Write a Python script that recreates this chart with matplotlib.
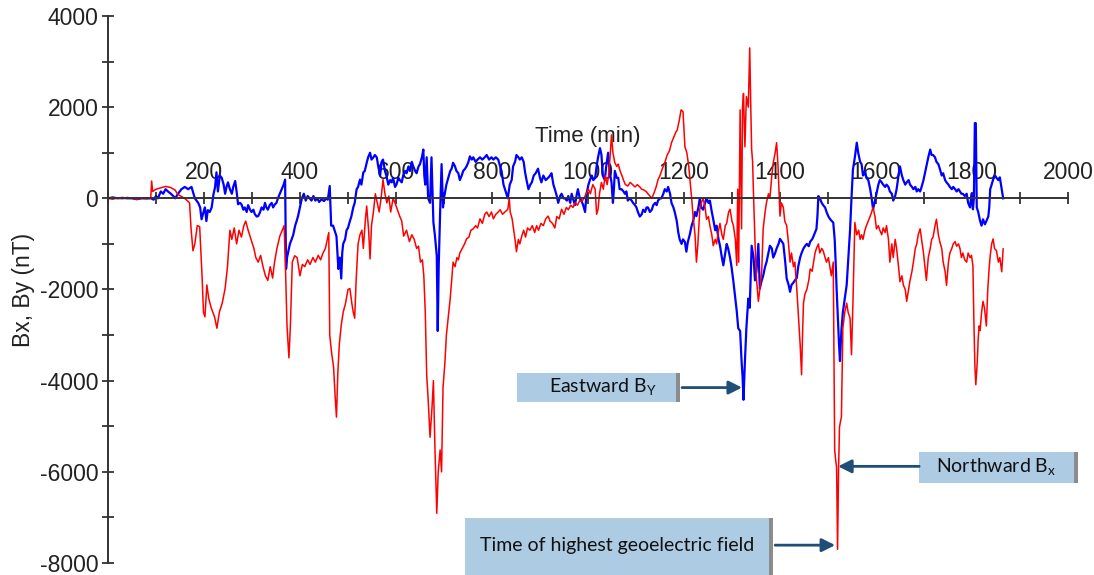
import numpy as np
import matplotlib.pyplot as plt
from matplotlib.patches import Rectangle
from matplotlib.ticker import MultipleLocator

plt.rcParams['font.family'] = ['Liberation Sans', 'DejaVu Sans']
plt.rcParams['axes.unicode_minus'] = False
plt.rcParams['mathtext.fontset'] = 'custom'
plt.rcParams['mathtext.rm'] = 'Lato'

#%% data: (time in min, field in nT)

# northward Bx (red)
bx = [
    (0, 0), (10, -20), (20, 10), (30, -10), (40, 20), (50, 0), (60, -20), (70, 0), (80, -10), (89, 0),
    (91, 380), (93, 150), (100, 200), (110, 230), (120, 260), (130, 240), (140, 180), (145, 90), (155, 30), (162, -20),
    (170, -100), (173, -650), (177, -1150), (181, -1000), (186, -600), (191, -620), (196, -1700), (199, -2500), (202, -2600), (206, -1900),
    (210, -2200), (215, -2400), (222, -2600), (227, -2850), (232, -2500), (238, -2300), (244, -1980), (249, -1500), (254, -700), (258, -900),
    (263, -650), (268, -1000), (273, -700), (278, -850), (283, -600), (287, -500), (292, -700), (298, -900), (304, -1100), (308, -1300),
    (313, -1400), (318, -1250), (323, -1500), (328, -1700), (333, -1800), (338, -1500), (343, -1750), (347, -1400), (352, -1100), (358, -830),
    (363, -700), (367, -600), (370, -1600), (373, -2800), (377, -3500), (380, -2800), (384, -1400), (389, -1260), (394, -1300), (400, -1700),
    (405, -1450), (410, -1500), (416, -1350), (421, -1450), (427, -1300), (432, -1400), (438, -1250), (443, -1350), (448, -1200), (453, -1100),
    (457, -900), (460, -750), (462, -3000), (466, -3400), (470, -3700), (473, -4300), (476, -4800), (479, -3800), (482, -3200), (486, -2780),
    (490, -2500), (495, -2300), (500, -2000), (504, -1980), (508, -2300), (511, -2500), (514, -2630), (517, -1800), (521, -1000), (525, -800),
    (529, -700), (532, -1100), (536, -500), (539, -170), (543, -700), (546, -1330), (549, -600), (553, -300), (557, 100), (561, -100),
    (565, -300), (569, 0), (573, 410), (577, 100), (581, -100), (585, 50), (589, -300), (594, 0), (598, -100), (603, -250),
    (608, -400), (612, -500), (616, -830), (622, -700), (628, -950), (633, -800), (638, -900), (643, -1100), (647, -1050), (651, -1400),
    (655, -1350), (658, -1700), (661, -2480), (664, -3870), (667, -4400), (671, -5240), (675, -4600), (678, -4000), (681, -5400), (683, -6200),
    (685, -6910), (688, -6000), (692, -5520), (695, -6000), (698, -4150), (702, -3600), (705, -3000), (709, -2600), (713, -2200), (716, -1800),
    (719, -1400), (723, -1500), (727, -1300), (730, -1350), (733, -1200), (738, -1100), (743, -1000), (747, -890), (752, -850), (756, -700),
    (761, -670), (766, -600), (770, -650), (775, -450), (780, -550), (785, -350), (789, -300), (794, -400), (799, -300), (803, -450),
    (808, -350), (813, -300), (817, -250), (822, -350), (827, -300), (833, -240), (836, 0), (838, -300), (842, -450), (844, -600),
    (848, -900), (851, -1170), (855, -900), (858, -1000), (862, -830), (866, -700), (870, -850), (874, -650), (879, -700), (884, -600),
    (889, -750), (893, -600), (897, -700), (902, -550), (907, -600), (912, -450), (917, -390), (921, -500), (926, -550), (931, -650),
    (935, -400), (940, -450), (945, -240), (950, -350), (955, -200), (959, -250), (964, -150), (969, -200), (973, -100), (978, -150),
    (983, -50), (987, -70), (992, 0), (996, 100), (1001, 200), (1005, 100), (1010, 300), (1015, 200), (1018, -350), (1021, -240),
    (1024, 100), (1028, 350), (1032, 200), (1036, 500), (1040, 300), (1043, 500), (1046, 900), (1049, 1390), (1052, 1000), (1056, 780),
    (1060, 700), (1063, 750), (1067, 600), (1070, 520), (1074, 400), (1078, 300), (1083, 270), (1088, 350), (1093, 300), (1098, 250),
    (1103, 300), (1108, 250), (1112, 200), (1117, 180), (1121, 150), (1125, 100), (1129, 50), (1133, 0), (1137, 100), (1142, 250),
    (1146, 410), (1150, 500), (1155, 650), (1160, 780), (1165, 950), (1170, 1050), (1174, 1220), (1179, 1350), (1183, 1450), (1186, 1500),
    (1190, 1700), (1194, 1940), (1198, 1900), (1202, 1130), (1206, 1000), (1210, 700), (1213, 350), (1216, 0), (1219, -390), (1223, -800),
    (1226, -1400), (1229, -1000), (1233, -240), (1236, -100), (1240, 0), (1244, -200), (1247, -460), (1251, -400), (1254, -600), (1258, -800),
    (1261, -1040), (1265, -900), (1268, -1000), (1272, -700), (1275, -550), (1279, -800), (1282, -900), (1286, -600), (1289, -550), (1293, -300),
    (1296, -240), (1300, -500), (1303, -600), (1307, -900), (1310, -1470), (1312, 200), (1314, -1400), (1317, 1940), (1320, -670), (1322, 2000),
    (1324, 2300), (1327, 1130), (1330, 2230), (1334, 2000), (1337, 3300), (1339, 2100), (1341, 1070), (1343, 800), (1345, 50), (1348, -960),
    (1351, -1760), (1355, -2260), (1358, -2000), (1362, -1600), (1365, -670), (1369, -300), (1372, -90), (1376, 100), (1379, 0), (1383, 500),
    (1386, 780), (1390, 1000), (1393, 1220), (1396, 700), (1400, -390), (1403, -100), (1407, -200), (1410, -500), (1414, -600), (1417, -900),
    (1421, -1400), (1424, -1200), (1428, -1500), (1431, -1400), (1435, -1980), (1438, -2500), (1442, -3200), (1445, -3870), (1447, -3000), (1449, -2300),
    (1452, -2100), (1456, -2000), (1460, -1800), (1463, -1550), (1467, -1600), (1470, -1400), (1473, -1200), (1476, -1100), (1480, -1000), (1483, -1200),
    (1487, -1100), (1490, -1150), (1494, -1300), (1497, -1400), (1501, -1300), (1504, -1500), (1507, -1700), (1511, -1400), (1514, -5520), (1516, -5740),
    (1518, -5900), (1520, -7700), (1522, -6000), (1524, -5020), (1526, -4900), (1528, -4800), (1531, -2850), (1535, -2500), (1539, -2300), (1542, -2500),
    (1546, -2630), (1549, -3430), (1552, -2300), (1556, -530), (1560, -800), (1564, -700), (1567, -900), (1570, -800), (1573, -900), (1577, -700),
    (1580, -600), (1584, -500), (1588, -390), (1591, -300), (1594, -200), (1598, -400), (1601, -670), (1605, -600), (1608, -700), (1612, -800),
    (1615, -650), (1619, -750), (1622, -600), (1626, -900), (1629, -1400), (1633, -1000), (1636, -1300), (1640, -900), (1643, -1100), (1647, -1500),
    (1650, -1830), (1654, -1700), (1657, -1900), (1661, -2000), (1664, -2260), (1668, -2000), (1671, -1800), (1675, -1600), (1678, -1400), (1682, -1100),
    (1685, -1000), (1688, -800), (1692, -670), (1695, -900), (1699, -1200), (1702, -1500), (1705, -1800), (1709, -1300), (1713, -1100), (1716, -900),
    (1719, -850), (1723, -600), (1726, -460), (1730, -800), (1733, -950), (1737, -1100), (1740, -1400), (1744, -1600), (1747, -1910), (1751, -1400),
    (1754, -1200), (1758, -1100), (1761, -1000), (1765, -950), (1768, -1050), (1772, -1000), (1775, -1100), (1778, -1300), (1781, -1200), (1785, -1350),
    (1789, -1400), (1792, -1200), (1796, -1300), (1799, -1250), (1802, -1480), (1804, -2700), (1806, -3650), (1808, -4090), (1811, -3600), (1813, -3070),
    (1815, -2800), (1817, -2900), (1820, -2500), (1823, -2260), (1826, -2400), (1830, -2800), (1833, -1980), (1836, -1500), (1838, -1260), (1841, -1000),
    (1844, -890), (1847, -1100), (1851, -1150), (1855, -1400), (1858, -1300), (1862, -1610), (1865, -1110),
]

# eastward By (blue)
by = [
    (0, 0), (10, 20), (20, 0), (30, 10), (40, 0), (50, 0), (60, -20), (70, 0), (80, 0), (90, 0),
    (95, -30), (100, 50), (104, 0), (110, 150), (115, 100), (120, 200), (125, 150), (131, 100), (136, 50), (140, 0),
    (146, 100), (153, 200), (160, 250), (167, 200), (174, 250), (181, 0), (188, -100), (192, -200), (195, -460), (199, -300),
    (202, -200), (205, -500), (208, -260), (212, -300), (216, -200), (220, 100), (223, 240), (226, 570), (229, 150), (233, 500),
    (237, 450), (241, 300), (244, 100), (247, 250), (250, 350), (254, 200), (258, 100), (261, 250), (265, 380), (268, 150),
    (271, -130), (275, -100), (278, -130), (282, -250), (285, -200), (289, -300), (292, -150), (296, -250), (299, -300), (303, -250),
    (306, -350), (310, -400), (313, -390), (317, -300), (320, -200), (324, -250), (327, -100), (330, -200), (333, -250), (337, -150),
    (341, -100), (344, -200), (348, -130), (351, -100), (354, 0), (358, 100), (362, 200), (366, 300), (369, 410), (371, -1550),
    (373, -1300), (375, -1200), (379, -1000), (383, -890), (386, -800), (390, -600), (393, -500), (396, -390), (400, -200), (404, 0),
    (408, 100), (412, -50), (416, 50), (420, 0), (424, -50), (428, 50), (432, -50), (436, 0), (440, -80), (445, -20),
    (450, -60), (455, 0), (458, -30), (462, 270), (465, -600), (469, -600), (472, -700), (476, -830), (478, -1200), (480, -1550),
    (483, -1300), (486, -1760), (488, -1200), (490, -1000), (494, -900), (497, -700), (500, -650), (504, -500), (507, -400), (511, -200),
    (514, -100), (518, 200), (521, 250), (525, 410), (528, 300), (532, 570), (535, 600), (539, 780), (542, 900), (546, 1000),
    (549, 850), (553, 900), (556, 950), (560, 900), (563, 700), (567, 500), (570, 800), (573, 850), (577, 600), (580, 500),
    (584, 300), (588, 400), (591, 350), (594, 450), (598, 250), (601, 300), (605, 450), (608, 400), (612, 350), (615, 500),
    (619, 600), (622, 550), (626, 700), (629, 600), (633, 800), (636, 700), (640, 600), (643, 550), (647, 700), (650, 750),
    (654, 900), (657, 1070), (659, 500), (661, 300), (664, 900), (667, 0), (671, -100), (674, 900), (678, -530), (681, -800),
    (685, -1260), (687, -2910), (689, -1500), (692, -300), (695, 750), (698, -200), (700, 0), (705, 300), (709, 450), (713, 600),
    (716, 650), (719, 780), (723, 700), (726, 600), (730, 550), (733, 400), (737, 500), (740, 600), (744, 650), (747, 700),
    (751, 800), (754, 920), (758, 850), (761, 900), (766, 800), (770, 850), (775, 900), (780, 850), (785, 900), (789, 950),
    (794, 850), (799, 900), (803, 850), (808, 900), (813, 850), (817, 700), (820, 600), (824, 300), (827, 200), (830, 100),
    (833, 0), (837, 300), (841, 400), (844, 700), (848, 800), (851, 950), (855, 900), (858, 850), (862, 900), (866, 800),
    (869, 570), (872, 400), (876, 200), (880, 300), (883, 350), (887, 500), (891, 550), (896, 650), (900, 450), (903, 350),
    (907, 500), (912, 400), (917, 450), (921, 500), (924, 550), (928, 300), (931, 200), (935, 50), (938, -100), (942, 50),
    (945, 100), (949, 0), (952, 0), (956, -50), (959, 50), (963, -100), (966, 100), (970, -50), (973, -150), (976, 50),
    (979, 200), (983, 0), (987, -70), (990, -150), (994, -300), (997, 100), (1001, 300), (1004, 400), (1008, 500), (1011, 400),
    (1015, 450), (1018, 700), (1021, 900), (1025, 1100), (1028, 960), (1031, 500), (1035, 400), (1038, 700), (1042, 1000), (1045, 600),
    (1049, 350), (1052, -100), (1054, 200), (1056, 600), (1060, 450), (1063, 450), (1066, 200), (1070, 200), (1074, 150), (1077, 100),
    (1080, 150), (1083, -50), (1087, 0), (1091, -50), (1094, -100), (1098, -150), (1101, -200), (1104, -300), (1108, -400), (1112, -350),
    (1115, -250), (1119, -300), (1122, -200), (1125, -200), (1129, -300), (1133, -250), (1136, -150), (1140, -100), (1143, -150), (1146, -50),
    (1150, 0), (1153, 0), (1157, 100), (1160, 200), (1164, 150), (1167, 250), (1171, 100), (1174, -100), (1178, -200), (1181, -310),
    (1185, -500), (1188, -740), (1191, -900), (1195, -1000), (1198, -900), (1202, -960), (1205, -1170), (1208, -960), (1212, -800), (1216, -600),
    (1219, -500), (1223, -300), (1226, -390), (1230, -200), (1233, 0), (1236, -200), (1240, -250), (1244, -100), (1247, 0), (1251, -100),
    (1254, -50), (1258, -300), (1261, -460), (1265, -700), (1268, -600), (1272, -900), (1275, -1040), (1279, -1300), (1282, -1470), (1286, -1200),
    (1289, -1000), (1292, -1100), (1296, -1300), (1299, -1500), (1303, -1830), (1307, -2200), (1310, -2480), (1313, -2850), (1317, -2910), (1320, -3570),
    (1322, -3900), (1324, -4420), (1327, -3570), (1330, -2850), (1334, -2200), (1337, -2400), (1341, -1040), (1345, -1300), (1348, -1800), (1351, -1600),
    (1355, -1000), (1358, -1980), (1362, -1800), (1365, -1700), (1369, -1500), (1372, -1400), (1376, -1200), (1379, -1040), (1383, -1100), (1386, -1300),
    (1390, -1200), (1393, -1100), (1397, -1000), (1400, -890), (1404, -950), (1407, -1000), (1411, -1400), (1414, -1760), (1418, -1900), (1421, -2050),
    (1424, -1900), (1428, -1850), (1431, -1800), (1435, -1750), (1438, -1500), (1442, -1300), (1445, -1200), (1449, -1100), (1452, -1050), (1456, -1000),
    (1460, -1050), (1463, -950), (1467, -900), (1470, -830), (1473, -750), (1476, -670), (1478, -400), (1480, 50), (1483, 0), (1487, -100),
    (1490, -150), (1494, -200), (1497, -300), (1501, -400), (1504, -450), (1508, -500), (1511, -530), (1514, -900), (1516, -1400), (1518, -1980),
    (1521, -2700), (1523, -3200), (1525, -3570), (1528, -2900), (1531, -2500), (1535, -2200), (1539, -1900), (1542, -1400), (1546, -700), (1549, 0),
    (1552, 630), (1556, 900), (1560, 1220), (1563, 1000), (1567, 800), (1570, 750), (1573, 500), (1577, 600), (1580, 450), (1584, 400),
    (1588, 200), (1591, 0), (1594, -240), (1597, -100), (1601, 100), (1605, 300), (1608, 400), (1612, 350), (1615, 300), (1619, 250),
    (1622, 300), (1626, 250), (1629, 150), (1633, 100), (1636, -50), (1640, 50), (1643, 200), (1647, 500), (1650, 700), (1654, 500),
    (1657, 400), (1661, 300), (1664, 350), (1668, 400), (1671, 300), (1675, 250), (1678, 200), (1682, 250), (1685, 150), (1688, 200),
    (1692, 150), (1695, 250), (1699, 400), (1702, 550), (1705, 700), (1709, 900), (1713, 1070), (1716, 950), (1719, 950), (1723, 900),
    (1726, 800), (1730, 750), (1733, 650), (1737, 500), (1740, 550), (1744, 400), (1747, 350), (1751, 300), (1754, 250), (1758, 200),
    (1761, 250), (1765, 200), (1768, 150), (1772, 200), (1775, 150), (1778, 100), (1781, 100), (1785, 50), (1789, 100), (1792, -100),
    (1796, -200), (1799, 100), (1802, -240), (1804, 0), (1806, 1650), (1808, 1650), (1810, -200), (1813, -300), (1817, -500), (1820, -600),
    (1823, -460), (1827, -570), (1830, -500), (1834, -400), (1836, -200), (1838, 200), (1841, 300), (1844, 410), (1848, 500), (1851, 450),
    (1855, 400), (1858, 460), (1862, 200), (1865, 0),
]

bx_t, bx_v = np.array(bx).T
by_t, by_v = np.array(by).T

#%% plot

fig = plt.figure(figsize=(10.94, 5.75), dpi=100)
ax = fig.add_axes([0.0987, 0.0209, 0.8775, 0.9513])

ax.plot(by_t, by_v, color='#0000ff', lw=1.6)
ax.plot(bx_t, bx_v, color='#ff0000', lw=1.1)

ax.set_xlim(0, 2000)
ax.set_ylim(-8000, 4000)

# x axis drawn through zero, labels above it
ax.spines['right'].set_visible(False)
ax.spines['bottom'].set_visible(False)
ax.spines['top'].set_position(('data', 0))
for s in ['top', 'left']:
    ax.spines[s].set_color('#333333')
    ax.spines[s].set_linewidth(1.4)
ax.xaxis.tick_top()
ax.xaxis.set_label_position('top')

ax.set_xticks(range(200, 2001, 200))
ax.xaxis.set_minor_locator(MultipleLocator(100))
ax.set_yticks(range(-8000, 4001, 2000))
ax.yaxis.set_minor_locator(MultipleLocator(1000))

ax.tick_params(axis='both', which='both', direction='inout', length=8, width=1.3,
               color='#333333', labelsize=16.5, labelcolor='#222222')
ax.tick_params(axis='x', which='major', pad=6)
ax.tick_params(axis='y', which='major', pad=3)

ax.set_xlabel('Time (min)', fontsize=16, color='#222222', labelpad=14)
ax.set_ylabel('Bx, By (nT)', fontsize=16.5, color='#222222')
ax.yaxis.set_label_coords(-0.076, 0.5)

#%% callout boxes

box_c = '#adcbe3'
bar_c = '#8c8c8c'
arr_c = '#1f4e79'
tfont = dict(family='Lato', fontsize=14, color='#111111', ha='center', va='center')
arrp = dict(arrowstyle='-|>', color=arr_c, lw=2, mutation_scale=20, shrinkA=0, shrinkB=0)

def callout(x0, x1, y0, y1, text, tx, ty):
    ax.add_patch(Rectangle((x0, y0), x1 - x0, y1 - y0, facecolor=box_c, edgecolor='none', clip_on=False))
    ax.add_patch(Rectangle((x1 - 8, y0), 8, y1 - y0, facecolor=bar_c, edgecolor='none', clip_on=False))
    ax.text(tx, ty, text, **tfont)

callout(852, 1192, -4478, -3826, r'Eastward B$_\mathregular{Y}$', 1030, -4152)
ax.annotate('', xy=(1321, -4152), xytext=(1196, -4152), arrowprops=arrp, annotation_clip=False)

callout(1690, 2021, -6239, -5565, r'Northward B$_\mathregular{x}$', 1850, -5900)
ax.annotate('', xy=(1521, -5880), xytext=(1690, -5880), arrowprops=arrp, annotation_clip=False)

callout(744, 1385, -8400, -7022, 'Time of highest geoelectric field', 1060, -7609)
ax.annotate('', xy=(1515, -7609), xytext=(1390, -7609), arrowprops=arrp, annotation_clip=False)

fig.savefig('out.png', dpi=100)
